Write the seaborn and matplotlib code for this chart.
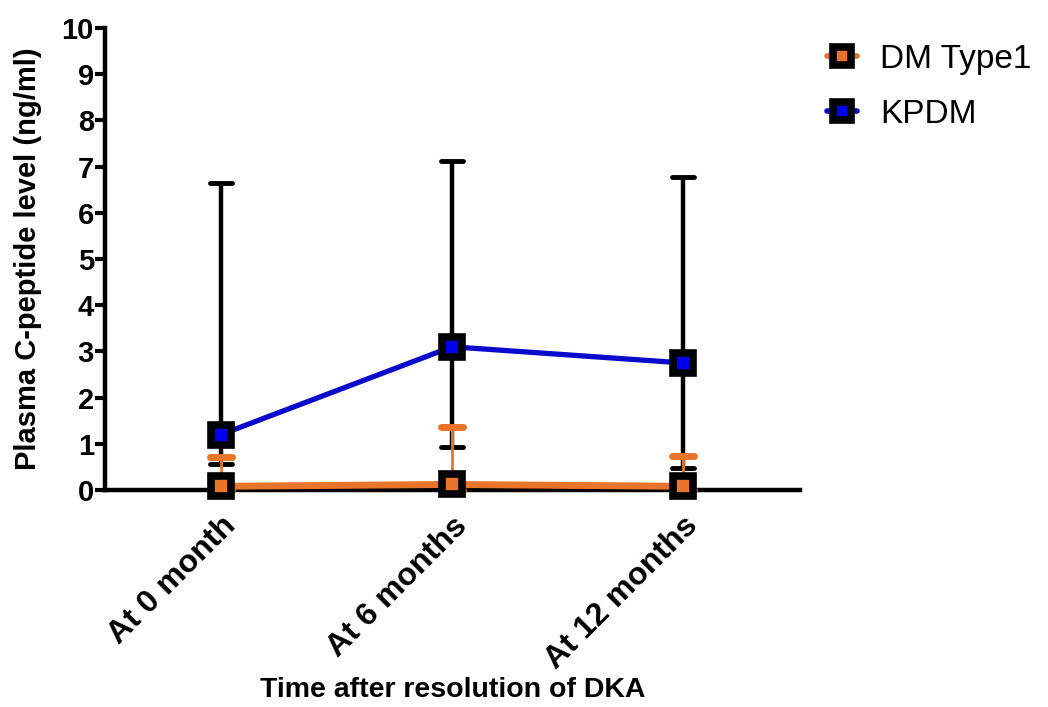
import pandas as pd
import seaborn as sns
import matplotlib.pyplot as plt
from matplotlib.lines import Line2D
from matplotlib.markers import MarkerStyle

# values
timepoints = ["At 0 month", "At 6 months", "At 12 months"]
kpdm_mean = [1.2, 3.1, 2.75]
kpdm_low = [0.56, 0.92, 0.47]
kpdm_high = [6.65, 7.12, 6.77]
dm1_mean = [0.08, 0.12, 0.08]
dm1_low = [0.0, 0.0, 0.0]
dm1_high = [0.71, 1.37, 0.74]

orange = "#E8752A"
blue_line = "#0A0ACD"
blue_face = "#0000F0"

df = pd.DataFrame({
    "time": list(range(len(timepoints))) * 2,
    "level": dm1_mean + kpdm_mean,
    "group": ["DM Type1"] * 3 + ["KPDM"] * 3,
})

sns.set_style("ticks")
plt.rcParams['font.family'] = ['Liberation Sans', 'DejaVu Sans']
plt.rcParams['font.weight'] = 'bold'
plt.rcParams['text.color'] = 'black'
plt.rcParams['axes.labelcolor'] = 'black'
plt.rcParams['xtick.color'] = 'black'
plt.rcParams['ytick.color'] = 'black'
plt.rcParams['axes.edgecolor'] = 'black'

fig = plt.figure(figsize=(10.48, 7.07), dpi=100)
ax = fig.add_axes([105/1048, 1 - 490/707, (800-105)/1048, (490-28)/707])

x = list(range(len(timepoints)))


def round_caps(eb):
    for cap in eb[1]:
        cap.set_marker(MarkerStyle('_', capstyle='round'))


# KPDM error bars (black)
eb = ax.errorbar(x, kpdm_mean,
                 yerr=[[m - l for m, l in zip(kpdm_mean, kpdm_low)],
                       [h - m for m, h in zip(kpdm_mean, kpdm_high)]],
                 fmt='none', ecolor='black', elinewidth=3.2, capsize=8, capthick=3.5,
                 zorder=2, clip_on=False)
round_caps(eb)
# DM Type1 error bars (orange)
eb = ax.errorbar(x, dm1_mean,
                 yerr=[[m - l for m, l in zip(dm1_mean, dm1_low)],
                       [h - m for m, h in zip(dm1_mean, dm1_high)]],
                 fmt='none', ecolor=orange, elinewidth=2, capsize=8, capthick=5,
                 zorder=3, clip_on=False)
round_caps(eb)

sub = df[df.group == "DM Type1"]
sns.lineplot(data=sub, x="time", y="level", ax=ax, color=orange, lw=5,
             marker='s', markersize=14, markerfacecolor=orange,
             markeredgecolor='black', markeredgewidth=5.5, zorder=5,
             clip_on=False, legend=False)
sub = df[df.group == "KPDM"]
sns.lineplot(data=sub, x="time", y="level", ax=ax, color=blue_line, lw=3.8,
             marker='s', markersize=14, markerfacecolor=blue_face,
             markeredgecolor='black', markeredgewidth=5.5, zorder=5,
             clip_on=False, legend=False)

ax.set_xlim(-0.502, 2.506)
ax.set_ylim(0, 10)
ax.set_yticks(range(0, 11))
ax.set_xticks(x)
ax.set_xticklabels(timepoints, rotation=45, ha='right', rotation_mode='anchor',
                   fontsize=23, fontweight='bold')
ax.tick_params(axis='y', labelsize=21, width=3, length=7, pad=1, direction='out')
ax.tick_params(axis='x', width=3, length=5, pad=10, direction='out')
for lbl in ax.get_yticklabels():
    lbl.set_fontweight('bold')

sns.despine(ax=ax)
ax.spines['left'].set_linewidth(3.2)
ax.spines['bottom'].set_linewidth(3.2)

ax.set_xlabel("Time after resolution of DKA", fontsize=20.5, fontweight='bold', labelpad=1)
ax.set_ylabel("Plasma C-peptide level (ng/ml)", fontsize=21, fontweight='bold', labelpad=14)

handles = [
    Line2D([], [], color=orange, lw=4, marker='s', markersize=13,
           markerfacecolor=orange, markeredgecolor='black', markeredgewidth=5.5),
    Line2D([], [], color=blue_line, lw=4, marker='s', markersize=13,
           markerfacecolor=blue_face, markeredgecolor='black', markeredgewidth=5.5),
]
leg = fig.legend(handles, ["DM Type1", "KPDM"], loc='upper left',
                 bbox_to_anchor=(797/1048, 1 - 14/707), frameon=False,
                 handlelength=0.9, handletextpad=0.7, labelspacing=0.72,
                 prop={'size': 24, 'weight': 'normal'})

fig.savefig("out.png", dpi=100)
